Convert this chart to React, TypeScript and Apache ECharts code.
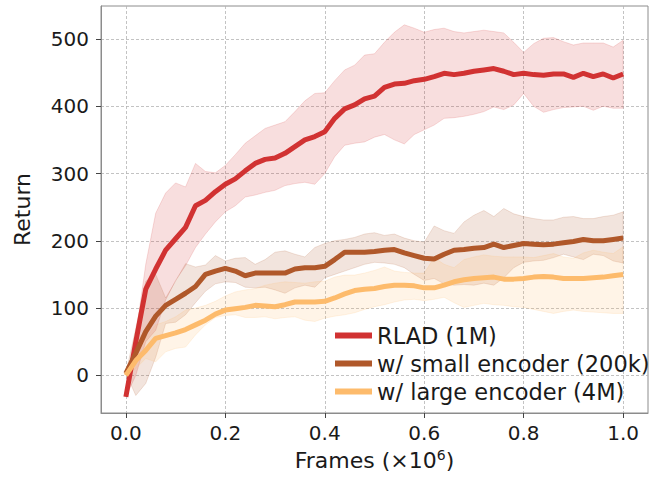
import React, { useEffect, useRef } from "react";
import * as echarts from "echarts";

const FRAMES = [
  0, 0.02, 0.04, 0.06, 0.08, 0.1, 0.12, 0.14, 0.16, 0.18, 0.2, 0.22, 0.24, 0.26, 0.28, 0.3, 0.32, 0.34,
  0.36, 0.38, 0.4, 0.42, 0.44, 0.46, 0.48, 0.5, 0.52, 0.54, 0.56, 0.58, 0.6, 0.62, 0.64, 0.66, 0.68,
  0.7, 0.72, 0.74, 0.76, 0.78, 0.8, 0.82, 0.84, 0.86, 0.88, 0.9, 0.92, 0.94, 0.96, 0.98, 1.0,
];

const RLAD_MEAN = [
  -32, 50, 128, 158, 186, 203, 220, 252, 260, 273, 284, 292, 304, 315, 321, 323, 330, 340, 350, 355,
  362, 382, 396, 402, 411, 415, 428, 433, 434, 438, 440, 444, 449, 447, 449, 452, 454, 456, 452, 447,
  449, 447, 446, 448, 448, 443, 449, 444, 448, 442, 448,
];
const RLAD_UPPER = [
  -32, 60, 165, 241, 271, 286, 280, 315, 303, 301, 312, 328, 345, 356, 367, 372, 377, 392, 408, 419,
  420, 438, 454, 461, 476, 478, 495, 510, 521, 516, 510, 514, 516, 511, 509, 511, 513, 511, 509, 495,
  480, 493, 501, 502, 496, 491, 494, 494, 494, 488, 498,
];
const RLAD_LOWER = [
  -32, 0, 50, 67, 112, 141, 163, 190, 210, 228, 243, 252, 265, 268, 272, 275, 282, 285, 287, 284,
  300, 325, 342, 345, 347, 354, 358, 350, 344, 358, 365, 372, 382, 383, 385, 388, 392, 399, 395, 402,
  419, 400, 391, 395, 398, 399, 400, 394, 400, 397, 397,
];

const SMALL_MEAN = [
  3, 33, 65, 88, 104, 113, 122, 132, 150, 155, 159, 155, 148, 152, 152, 152, 152, 158, 160, 160,
  162, 172, 183, 183, 183, 184, 186, 187, 182, 178, 174, 173, 180, 186, 187, 189, 190, 195, 190, 193,
  196, 195, 194, 195, 197, 199, 202, 200, 200, 202, 204,
];
const SMALL_UPPER = [
  3, 70, 140, 150, 115, 140, 166, 161, 164, 178, 170, 174, 175, 165, 172, 183, 185, 180, 176, 190,
  196, 200, 202, 205, 210, 212, 208, 210, 204, 200, 198, 222, 215, 211, 228, 238, 245, 236, 248, 240,
  236, 233, 231, 231, 235, 236, 233, 233, 236, 238, 243,
];
const SMALL_LOWER = [
  3, -30, -12, 27, 77, 79, 90, 108, 125, 136, 139, 138, 131, 130, 131, 127, 122, 130, 134, 131,
  145, 150, 155, 160, 165, 168, 167, 165, 160, 150, 141, 144, 136, 134, 135, 134, 137, 134, 145, 160,
  168, 170, 171, 175, 180, 176, 172, 180, 178, 170, 167,
];

const LARGE_MEAN = [
  0, 22, 37, 55, 59, 63, 68, 75, 82, 91, 97, 99, 101, 104, 103, 102, 105, 109, 109, 109,
  110, 115, 121, 126, 128, 129, 132, 134, 134, 133, 130, 130, 134, 139, 142, 144, 145, 146, 143, 143,
  144, 146, 147, 146, 144, 144, 144, 145, 146, 148, 150,
];
const LARGE_UPPER = [
  0, 30, 55, 75, 80, 87, 97, 100, 104, 110, 118, 124, 127, 129, 134, 137, 139, 138, 137, 139,
  140, 146, 149, 149, 152, 156, 161, 155, 153, 152, 152, 175, 165, 160, 172, 176, 179, 177, 176, 176,
  176, 175, 178, 181, 176, 174, 182, 186, 183, 181, 191,
];
const LARGE_LOWER = [
  0, 10, 25, 20, 35, 40, 42, 60, 75, 86, 89, 90, 86, 86, 87, 84, 86, 87, 82, 80,
  85, 88, 90, 93, 98, 102, 105, 109, 112, 113, 111, 113, 116, 108, 101, 104, 107, 105, 104, 102,
  101, 98, 95, 92, 95, 97, 95, 94, 93, 92, 92,
];

const X_TICKS = [0, 0.2, 0.4, 0.6, 0.8, 1.0];
const Y_TICKS = [0, 100, 200, 300, 400, 500];

const NAMES = ["RLAD (1M)", "w/ small encoder (200k)", "w/ large encoder (4M)"];
const COLORS = ["#d13232", "#b0582a", "#fdbb6c"];

const FONT = "DejaVu Sans";

function band(upper: number[], lower: number[], color: string) {
  return {
    type: "custom",
    silent: true,
    z: 1,
    data: [[0, 0]],
    renderItem: (params: any, api: any) => {
      if (params.dataIndex !== 0) return null;
      const pts: number[][] = [];
      for (let i = 0; i < FRAMES.length; i++) pts.push(api.coord([FRAMES[i], upper[i]]));
      for (let i = FRAMES.length - 1; i >= 0; i--) pts.push(api.coord([FRAMES[i], lower[i]]));
      return {
        type: "polygon",
        shape: { points: pts },
        style: { fill: color, opacity: 0.16, stroke: color, lineWidth: 1 },
      };
    },
  };
}

function line(name: string, mean: number[], color: string) {
  return {
    type: "line",
    name,
    z: 3,
    data: FRAMES.map((x, i) => [x, mean[i]]),
    showSymbol: false,
    symbol: "none",
    lineStyle: { color, width: 5 },
    itemStyle: { color },
  };
}

export default function App() {
  const ref = useRef<HTMLDivElement>(null);
  useEffect(() => {
    document.body.style.margin = "0";
    const chart = echarts.init(ref.current!, null, { renderer: "svg" });
    const axisColor = "#8c8c8c";
    const split = { show: true, lineStyle: { type: [3, 2], color: "#b4b4b4", width: 0.8 } };
    chart.setOption({
      animation: false,
      grid: { left: 101, right: 2, top: 6, bottom: 65, show: true, borderColor: axisColor, borderWidth: 1 },
      legend: {
        orient: "vertical",
        left: 330,
        top: 319,
        icon: "rect",
        itemWidth: 37,
        itemHeight: 6,
        itemGap: 5,
        data: NAMES,
        textStyle: { fontSize: 22.5, fontFamily: FONT, color: "#1a1a1a", lineHeight: 22 },
      },
      xAxis: {
        type: "value",
        min: -0.05,
        max: 1.05,
        name: "Frames (×10{sup|6})",
        nameLocation: "middle",
        nameGap: 32,
        nameTextStyle: {
          fontSize: 22,
          fontFamily: FONT,
          color: "#1a1a1a",
          rich: { sup: { fontSize: 14, fontFamily: FONT, color: "#1a1a1a", padding: [0, 0, 12, 0] } },
        },
        axisLine: { show: true, onZero: false, lineStyle: { color: axisColor } },
        axisTick: { show: true, customValues: X_TICKS, length: 5, lineStyle: { color: "#444" } },
        axisLabel: {
          customValues: X_TICKS,
          formatter: (v: number) => v.toFixed(1),
          fontSize: 20,
          fontFamily: FONT,
          color: "#1a1a1a",
          margin: 10,
        },
        splitLine: split,
      },
      yAxis: {
        type: "value",
        min: -56,
        max: 549,
        name: "Return",
        nameLocation: "middle",
        nameGap: 68,
        nameTextStyle: { fontSize: 22, fontFamily: FONT, color: "#1a1a1a" },
        axisLine: { show: true, onZero: false, lineStyle: { color: axisColor } },
        axisTick: { show: true, customValues: Y_TICKS, length: 5, lineStyle: { color: "#444" } },
        axisLabel: {
          customValues: Y_TICKS,
          fontSize: 20,
          fontFamily: FONT,
          color: "#1a1a1a",
          margin: 12,
        },
        splitLine: split,
      },
      series: [
        band(RLAD_UPPER, RLAD_LOWER, COLORS[0]),
        band(SMALL_UPPER, SMALL_LOWER, COLORS[1]),
        band(LARGE_UPPER, LARGE_LOWER, COLORS[2]),
        line(NAMES[0], RLAD_MEAN, COLORS[0]),
        line(NAMES[1], SMALL_MEAN, COLORS[1]),
        line(NAMES[2], LARGE_MEAN, COLORS[2]),
      ],
    });
    return () => chart.dispose();
  }, []);
  return <div ref={ref} style={{ width: 650, height: 478 }} />;
}
